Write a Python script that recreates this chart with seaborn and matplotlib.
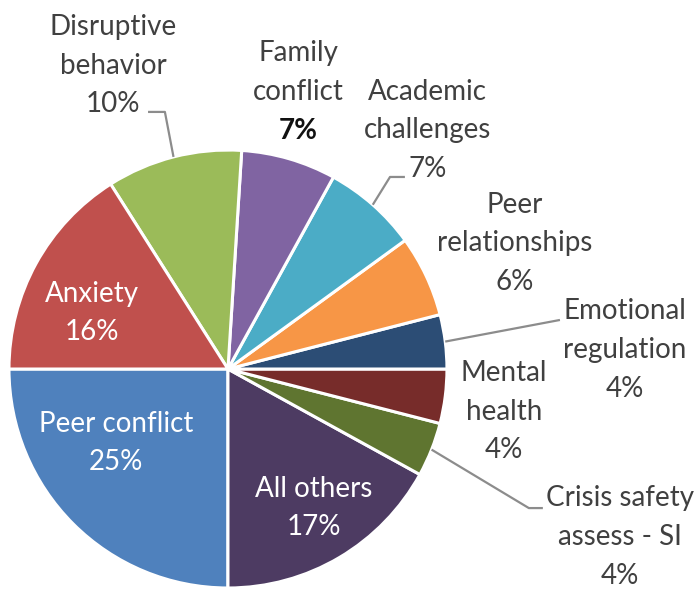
import numpy as np
import matplotlib
matplotlib.use("Agg")
import matplotlib.pyplot as plt
import seaborn as sns

# Referral reasons, listed counterclockwise starting at 9 o'clock
categories = ["Peer conflict", "All others", "Crisis safety\nassess - SI", "Mental\nhealth",
              "Emotional\nregulation", "Peer\nrelationships", "Academic\nchallenges",
              "Family\nconflict", "Disruptive\nbehavior", "Anxiety"]
shares = [25, 17, 4, 4, 4, 6, 7, 7, 10, 16]
colors = ["#4F81BD", "#4D3B62", "#5F7530", "#772C2A", "#2C4D75",
          "#F79646", "#4BACC6", "#8064A2", "#9BBB59", "#C0504D"]

sns.set_theme(style="white")
plt.rcParams["font.family"] = ["Lato", "DejaVu Sans"]

fig = plt.figure(figsize=(6.99, 5.90), dpi=100)
ax = fig.add_axes([0, 0, 1, 1])
wedges, _ = ax.pie(shares, colors=sns.color_palette(colors), startangle=180,
                   counterclock=True, radius=1.0,
                   wedgeprops=dict(edgecolor="white", linewidth=2.2))
ax.set_xlim(-1.041, 2.151)
ax.set_ylim(-1.009, 1.685)
ax.set_aspect("equal")
ax.axis("off")

grey = "#404040"
fs = 20
step = 0.176  # vertical distance between label lines, in pie radii

def mid_point(w, r=1.0):
    ang = np.deg2rad((w.theta1 + w.theta2) / 2)
    return np.cos(ang) * r, np.sin(ang) * r

def label(i, xy, inside=False, pct_dark=False):
    lines = categories[i].split("\n") + [f"{shares[i]}%"]
    col = "white" if inside else grey
    n = len(lines)
    for k, s in enumerate(lines):
        y = xy[1] + ((n - 1) / 2 - k) * step
        is_pct = k == n - 1
        c = "#111111" if (pct_dark and is_pct) else col
        w = "bold" if (pct_dark and is_pct) else "normal"
        ax.text(xy[0], y, s, ha="center", va="center", fontsize=fs,
                color=c, fontweight=w)

# Labels inside the large slices
label(0, (-0.511, -0.338), inside=True)
label(1, (0.393, -0.635), inside=True)
label(9, (-0.621, 0.255), inside=True)

# Labels outside the pie
label(8, (-0.525, 1.385))
label(7, (0.320, 1.265), pct_dark=True)
label(6, (0.913, 1.091))
label(5, (1.311, 0.575))
label(4, (1.813, 0.087))
label(3, (1.260, -0.196))
label(2, (1.790, -0.767))

# Leader lines from slice edges to their labels
line_kw = dict(color="#8c8c8c", lw=1.6, solid_capstyle="butt")
def leader(i, pts):
    x0, y0 = mid_point(wedges[i], 1.0)
    xs = [x0] + [p[0] for p in pts]
    ys = [y0] + [p[1] for p in pts]
    ax.plot(xs, ys, **line_kw)

leader(8, [(-0.288, 1.174), (-0.365, 1.174)])
leader(6, [(0.740, 0.877), (0.808, 0.877)])
leader(4, [(1.516, 0.224)])
leader(2, [(1.374, -0.635), (1.438, -0.635)])

fig.savefig("out.png", dpi=100, facecolor="white")
